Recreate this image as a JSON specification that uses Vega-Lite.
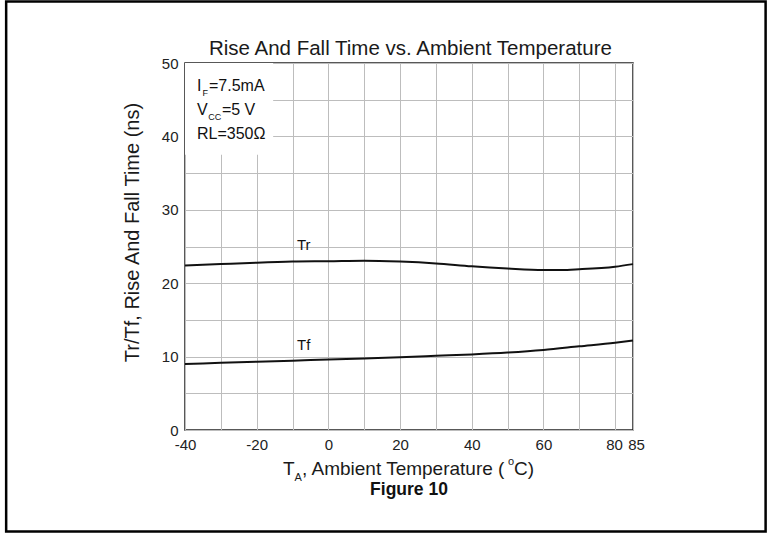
{
  "$schema": "https://vega.github.io/schema/vega-lite/v6.json",
  "width": 448,
  "height": 367,
  "autosize": {"type": "none"},
  "padding": {"left": 185, "top": 63, "right": 136, "bottom": 103},
  "background": "white",
  "config": {"view": {"stroke": "#222222", "strokeWidth": 1.5}, "font": "Liberation Sans", "axis": {"labelOverlap": false, "labelFlush": false, "labelBound": false}},
  "datasets": {
    "curves": [
      {"t": -40, "v": 22.4, "s": "Tr"}, {"t": -30, "v": 22.6, "s": "Tr"}, {"t": -20, "v": 22.8, "s": "Tr"}, {"t": -10, "v": 22.95, "s": "Tr"}, {"t": 0, "v": 23.0, "s": "Tr"}, {"t": 10, "v": 23.07, "s": "Tr"}, {"t": 20, "v": 22.95, "s": "Tr"}, {"t": 30, "v": 22.7, "s": "Tr"}, {"t": 40, "v": 22.3, "s": "Tr"}, {"t": 50, "v": 22.0, "s": "Tr"}, {"t": 60, "v": 21.8, "s": "Tr"}, {"t": 65, "v": 21.8, "s": "Tr"}, {"t": 70, "v": 21.9, "s": "Tr"}, {"t": 80, "v": 22.25, "s": "Tr"}, {"t": 85, "v": 22.6, "s": "Tr"},
      {"t": -40, "v": 9.0, "s": "Tf"}, {"t": -30, "v": 9.15, "s": "Tf"}, {"t": -20, "v": 9.3, "s": "Tf"}, {"t": -10, "v": 9.45, "s": "Tf"}, {"t": 0, "v": 9.6, "s": "Tf"}, {"t": 10, "v": 9.75, "s": "Tf"}, {"t": 20, "v": 9.9, "s": "Tf"}, {"t": 30, "v": 10.1, "s": "Tf"}, {"t": 40, "v": 10.3, "s": "Tf"}, {"t": 50, "v": 10.55, "s": "Tf"}, {"t": 60, "v": 10.9, "s": "Tf"}, {"t": 70, "v": 11.4, "s": "Tf"}, {"t": 80, "v": 11.9, "s": "Tf"}, {"t": 85, "v": 12.2, "s": "Tf"}
    ],
    "frame": [{"x": -89.9, "x2": 122.0, "y": 58.38, "y2": -13.83}],
    "box": [{"x": -40, "x2": -15.4, "y": 37.5, "y2": 50}],
    "heading": [{"x": 22.9, "y": 51.09, "t": "Rise And Fall Time vs. Ambient Temperature"}],
    "seriesLabels": [{"x": -8.75, "y": 24.5, "t": "Tr"}, {"x": -8.75, "y": 10.9, "t": "Tf"}],
    "note": [
      {"x": -36.65, "y": 46.18, "t": "I"},
      {"x": -33.3, "y": 46.18, "t": "=7.5mA"},
      {"x": -36.65, "y": 42.92, "t": "V"},
      {"x": -29.7, "y": 42.92, "t": "=5 V"},
      {"x": -36.65, "y": 39.65, "t": "RL=350Ω"}
    ],
    "noteSub": [
      {"x": -35.1, "y": 45.5, "t": "F"},
      {"x": -33.5, "y": 42.3, "t": "CC"}
    ],
    "xTitle": [
      {"x": -12.66, "y": -6.1, "t": "T"},
      {"x": -7.36, "y": -6.1, "t": ", Ambient Temperature ("},
      {"x": 51.8, "y": -6.1, "t": "C)"}
    ],
    "xTitleSmall": [
      {"x": -9.42, "y": -6.92, "t": "A"},
      {"x": 50.12, "y": -4.74, "t": "o"}
    ],
    "caption": [{"x": 22.5, "y": -8.9, "t": "Figure 10"}]
  },
  "layer": [
    {
      "data": {"name": "curves"},
      "mark": {"type": "line", "color": "#111111", "strokeWidth": 2, "interpolate": "monotone"},
      "encoding": {
        "x": {"field": "t", "type": "quantitative", "scale": {"domain": [-40, 85], "nice": false, "zero": false},
          "axis": {"title": null, "values": [-40, -30, -20, -10, 0, 10, 20, 30, 40, 50, 60, 70, 80, 85], "tickCount": 40,
            "labelExpr": "(datum.value % 20 == 0 || datum.value == 85) ? ('' + datum.value) : ''",
            "labelOffset": {"condition": [{"test": "datum.value == 85", "value": 3}, {"test": "datum.value == 80", "value": -1}], "value": 0},
            "labelFontSize": 15, "labelColor": "#222222", "labelPadding": 7, "labelOverlap": false, "labelFlush": false, "labelBound": false,
            "tickSize": 0, "domain": false, "grid": true, "gridColor": "#bdbdbd", "gridWidth": 1}},
        "y": {"field": "v", "type": "quantitative", "scale": {"domain": [0, 50], "nice": false, "zero": false},
          "axis": {"title": "Tr/Tf, Rise And Fall Time (ns)", "titleFontSize": 20, "titleFontWeight": "normal", "titleColor": "#1a1a1a", "titlePadding": 19, "titleY": 169,
            "values": [0, 5, 10, 15, 20, 25, 30, 35, 40, 45, 50], "tickCount": 40,
            "labelExpr": "datum.value % 10 == 0 ? ('' + datum.value) : ''",
            "labelFontSize": 15, "labelColor": "#222222", "labelPadding": 7, "labelOverlap": false, "labelFlush": false, "labelBound": false,
            "tickSize": 0, "domain": false, "grid": true, "gridColor": "#bdbdbd", "gridWidth": 1}},
        "detail": {"field": "s"}
      }
    },
    {
      "data": {"name": "frame"},
      "mark": {"type": "rect", "fill": null, "fillOpacity": 0, "stroke": "#000000", "strokeWidth": 2.5},
      "encoding": {
        "x": {"field": "x", "type": "quantitative"},
        "x2": {"field": "x2"},
        "y": {"field": "y", "type": "quantitative"},
        "y2": {"field": "y2"}
      }
    },
    {
      "data": {"name": "box"},
      "mark": {"type": "rect", "fill": "white", "stroke": null},
      "encoding": {
        "x": {"field": "x", "type": "quantitative"},
        "x2": {"field": "x2"},
        "y": {"field": "y", "type": "quantitative"},
        "y2": {"field": "y2"}
      }
    },
    {
      "data": {"name": "heading"},
      "mark": {"type": "text", "align": "center", "baseline": "alphabetic", "fontSize": 20.5, "color": "#1a1a1a"},
      "encoding": {"x": {"field": "x", "type": "quantitative"}, "y": {"field": "y", "type": "quantitative"}, "text": {"field": "t"}}
    },
    {
      "data": {"name": "seriesLabels"},
      "mark": {"type": "text", "align": "left", "baseline": "alphabetic", "fontSize": 15, "color": "#111111"},
      "encoding": {"x": {"field": "x", "type": "quantitative"}, "y": {"field": "y", "type": "quantitative"}, "text": {"field": "t"}}
    },
    {
      "data": {"name": "note"},
      "mark": {"type": "text", "align": "left", "baseline": "alphabetic", "fontSize": 16, "color": "#111111"},
      "encoding": {"x": {"field": "x", "type": "quantitative"}, "y": {"field": "y", "type": "quantitative"}, "text": {"field": "t"}}
    },
    {
      "data": {"name": "noteSub"},
      "mark": {"type": "text", "align": "left", "baseline": "alphabetic", "fontSize": 9, "color": "#111111"},
      "encoding": {"x": {"field": "x", "type": "quantitative"}, "y": {"field": "y", "type": "quantitative"}, "text": {"field": "t"}}
    },
    {
      "data": {"name": "xTitle"},
      "mark": {"type": "text", "align": "left", "baseline": "alphabetic", "fontSize": 19, "color": "#1a1a1a"},
      "encoding": {"x": {"field": "x", "type": "quantitative"}, "y": {"field": "y", "type": "quantitative"}, "text": {"field": "t"}}
    },
    {
      "data": {"name": "xTitleSmall"},
      "mark": {"type": "text", "align": "left", "baseline": "alphabetic", "fontSize": 11, "color": "#1a1a1a"},
      "encoding": {"x": {"field": "x", "type": "quantitative"}, "y": {"field": "y", "type": "quantitative"}, "text": {"field": "t"}}
    },
    {
      "data": {"name": "caption"},
      "mark": {"type": "text", "align": "center", "baseline": "alphabetic", "fontSize": 17.5, "fontWeight": "bold", "color": "#111111"},
      "encoding": {"x": {"field": "x", "type": "quantitative"}, "y": {"field": "y", "type": "quantitative"}, "text": {"field": "t"}}
    }
  ]
}
